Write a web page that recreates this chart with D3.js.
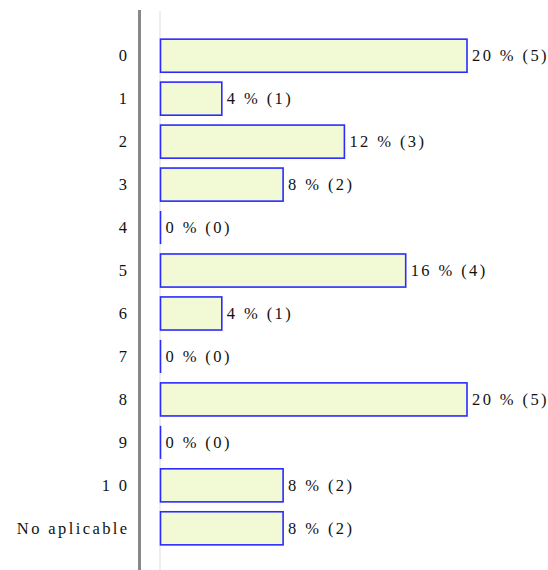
<!DOCTYPE html>
<meta charset="utf-8">
<style>
body { margin: 0; background: #fff; }
</style>
<svg width="548" height="570"></svg>
<script src="https://d3js.org/d3.v7.min.js"></script>
<script>

var categories = ["0", "1", "2", "3", "4", "5", "6", "7", "8", "9", "10", "No aplicable"];
var percents = [20, 4, 12, 8, 0, 16, 4, 0, 20, 0, 8, 8];
var counts = [5, 1, 3, 2, 0, 4, 1, 0, 5, 0, 2, 2];

var svg = d3.select("svg"),
    x0 = 160.5;

var data = categories.map(function(c, i) {
  return {cat: c, pct: percents[i], n: counts[i]};
});

var x = d3.scaleLinear().domain([0, 20]).range([x0, 467]);

var y = d3.scaleBand()
    .domain(categories)
    .range([34, 550])
    .paddingInner(0.23)
    .paddingOuter(0.12);

// axis lines
svg.append("line")
    .attr("x1", 139.5).attr("x2", 139.5)
    .attr("y1", 10).attr("y2", 570)
    .attr("stroke", "#888").attr("stroke-width", 3);

svg.append("line")
    .attr("x1", 160).attr("x2", 160)
    .attr("y1", 11).attr("y2", 570)
    .attr("stroke", "#eee").attr("stroke-width", 2);

var row = svg.selectAll(".row")
    .data(data)
    .enter().append("g")
    .attr("class", "row")
    .attr("font-family", "'Liberation Serif', 'Times New Roman', serif")
    .attr("font-size", 16.5)
    .attr("letter-spacing", 2.4)
    .attr("fill", "#111");

row.filter(function(d) { return d.pct > 0; })
  .append("rect")
    .attr("x", x0)
    .attr("y", function(d) { return y(d.cat); })
    .attr("width", function(d) { return x(d.pct) - x0; })
    .attr("height", y.bandwidth())
    .attr("fill", "#f2f9d5")
    .attr("stroke", "#2b2bff")
    .attr("stroke-width", 1.6);

// zero-value bars show only as a blue edge
row.filter(function(d) { return d.pct === 0; })
  .append("line")
    .attr("x1", x0).attr("x2", x0)
    .attr("y1", function(d) { return y(d.cat); })
    .attr("y2", function(d) { return y(d.cat) + y.bandwidth(); })
    .attr("stroke", "#2b2bff")
    .attr("stroke-width", 1.6);

row.append("text")
    .attr("x", 129.5)
    .attr("y", function(d) { return y(d.cat) + y.bandwidth() / 2; })
    .attr("dy", "0.35em")
    .attr("text-anchor", "end")
    .text(function(d) { return d.cat === "10" ? "1 0" : d.cat; });

row.append("text")
    .attr("x", function(d) { return x(d.pct) + 5; })
    .attr("y", function(d) { return y(d.cat) + y.bandwidth() / 2; })
    .attr("dy", "0.35em")
    .text(function(d) { return d.pct + " % (" + d.n + ")"; });

</script>
